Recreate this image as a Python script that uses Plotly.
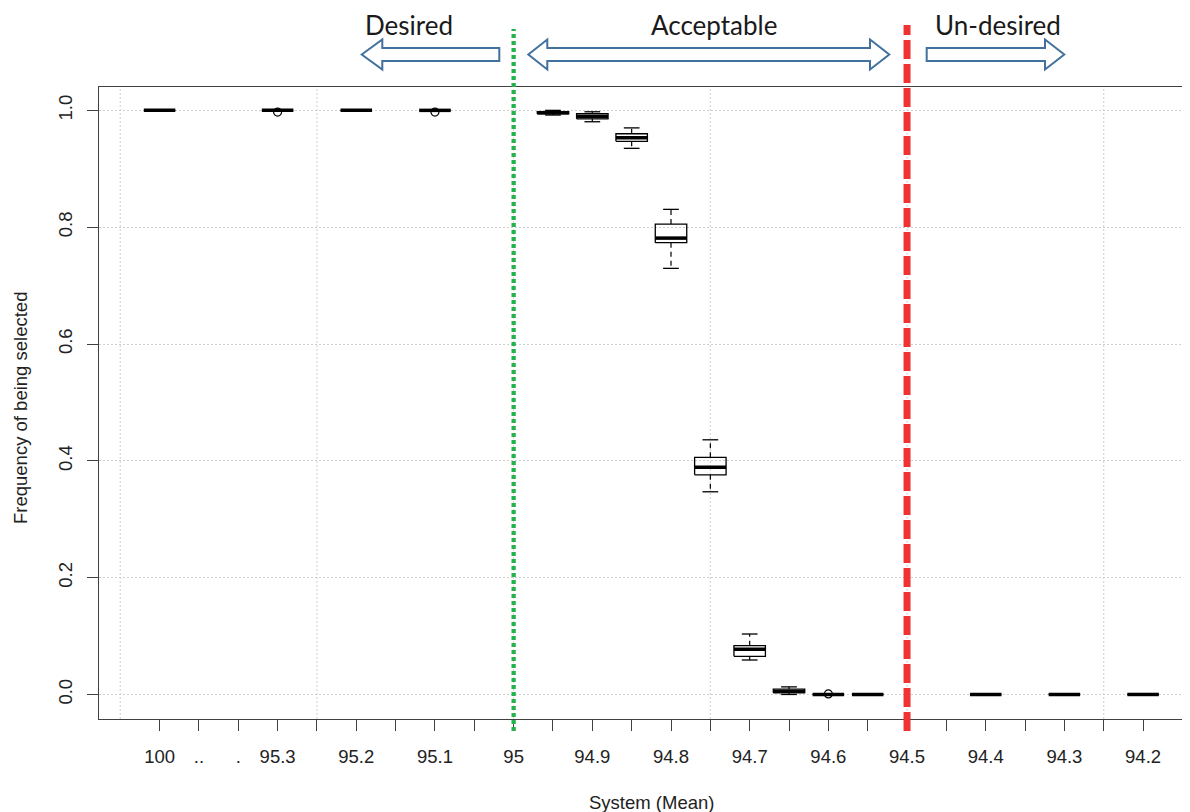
import plotly.graph_objects as go

# ---------------- data ----------------
tick_labels = ["100", "..", ".", "95.3", "", "95.2", "", "95.1", "", "95",
               "", "94.9", "", "94.8", "", "94.7", "", "94.6", "", "94.5",
               "", "94.4", "", "94.3", "", "94.2"]
positions = [1, 4, 6, 8, 11, 12, 13, 14, 15, 16, 17, 18, 19, 22, 24, 26]
whisker_low = [1.0, 1.0, 1.0, 1.0, 0.992, 0.9805, 0.935, 0.7295, 0.347, 0.059, 0.0, 0.0, 0.0, 0.0, 0.0, 0.0]
q1 = [1.0, 1.0, 1.0, 1.0, 0.994, 0.9856, 0.947, 0.7735, 0.376, 0.0653, 0.003, 0.0, 0.0, 0.0, 0.0, 0.0]
median = [1.0, 1.0, 1.0, 1.0, 0.996, 0.9897, 0.953, 0.7813, 0.389, 0.0773, 0.005, 0.0, 0.0, 0.0, 0.0, 0.0]
q3 = [1.0, 1.0, 1.0, 1.0, 0.998, 0.9942, 0.960, 0.8053, 0.406, 0.0835, 0.009, 0.0, 0.0, 0.0, 0.0, 0.0]
whisker_high = [1.0, 1.0, 1.0, 1.0, 1.0, 0.9976, 0.970, 0.8305, 0.436, 0.1035, 0.013, 0.0, 0.0, 0.0, 0.0, 0.0]
outlier_x = [4, 8, 18]
outlier_y = [0.997, 0.997, 0.001]
y_ticks = [0.0, 0.2, 0.4, 0.6, 0.8, 1.0]
y_ticktext = ["0.0", "0.2", "0.4", "0.6", "0.8", "1.0"]
x_grid = [0, 5, 10, 15, 20, 25]
desired_cut = 10      # position of "95"
undesired_cut = 20    # position of "94.5"

# ---------------- layout constants ----------------
OFF = 8                      # page body margin in the browser
W, H = 1190 - OFF, 812 - OFF
ML, MR, MT, MB = 99 - OFF, 0, 87 - OFF, 93
PW, PH = W - ML - MR, H - MT - MB
XR = [-0.54, -0.54 + PW / 39.34]
YR = [-0.042, 1.040]
BOXW = 0.4
STAPLE = 0.2
FONT = "Liberation Sans, Arial, sans-serif"
TXT = "#222222"
AX = "#404040"


def px_x(px):
    return (px - OFF - ML) / PW


def px_y(py):
    return (OFF + MT + PH - py) / PH


# ---------------- marks ----------------
bx, by, mx, my, wx, wy, sx, sy = [], [], [], [], [], [], [], []
for p, lo, a, m, b, hi in zip(positions, whisker_low, q1, median, q3, whisker_high):
    bx += [p - BOXW, p + BOXW, p + BOXW, p - BOXW, p - BOXW, None]
    by += [a, a, b, b, a, None]
    mx += [p - BOXW, p + BOXW, None]
    my += [m, m, None]
    wx += [p, p, None, p, p, None]
    wy += [b, hi, None, a, lo, None]
    sx += [p - STAPLE, p + STAPLE, None, p - STAPLE, p + STAPLE, None]
    sy += [hi, hi, None, lo, lo, None]

fig = go.Figure()
fig.add_trace(go.Scatter(x=wx, y=wy, mode="lines", line=dict(color="black", width=1.2, dash="5px,4px"),
                         hoverinfo="skip"))
fig.add_trace(go.Scatter(x=sx, y=sy, mode="lines", line=dict(color="black", width=1.3), hoverinfo="skip"))
fig.add_trace(go.Scatter(x=bx, y=by, mode="lines", line=dict(color="black", width=1.3), hoverinfo="skip"))
fig.add_trace(go.Scatter(x=mx, y=my, mode="lines", line=dict(color="black", width=3.5), hoverinfo="skip"))
fig.add_trace(go.Scatter(x=outlier_x, y=outlier_y, mode="markers",
                         marker=dict(symbol="circle-open", size=8, color="black", line=dict(width=1.2)),
                         hoverinfo="skip"))

# vertical grid (R grid(), dotted lightgray)
for g in x_grid:
    fig.add_shape(type="line", xref="x", yref="paper", x0=g, x1=g, y0=0, y1=1, layer="below",
                  line=dict(color="#cfcfcf", width=1, dash="2px,2px"))

# threshold lines
fig.add_shape(type="line", xref="x", yref="paper", x0=desired_cut, x1=desired_cut,
              y0=px_y(731), y1=px_y(29), line=dict(color="#24b14e", width=4.3, dash="4px,3px"))
fig.add_shape(type="line", xref="x", yref="paper", x0=undesired_cut, x1=undesired_cut,
              y0=px_y(731), y1=px_y(25), line=dict(color="#ee3333", width=7, dash="19px,5px"))


# block arrows (outlined)
def arrow_path(points):
    return "M " + " L ".join(f"{px_x(a):.5f},{px_y(b):.5f}" for a, b in points) + " Z"


HT, ST, YC, SB, HB = 39.5, 48, 54.5, 61, 69.5
left_arrow = [(361.7, YC), (382.3, HT), (382.3, ST), (499.3, ST), (499.3, SB), (382.3, SB), (382.3, HB)]
double_arrow = [(528.3, YC), (547.3, HT), (547.3, ST), (870, ST), (870, HT), (889.3, YC),
                (870, HB), (870, SB), (547.3, SB), (547.3, HB)]
right_arrow = [(926.7, ST), (1045, ST), (1045, HT), (1064.3, YC), (1045, HB), (1045, SB), (926.7, SB)]
for pts in (left_arrow, double_arrow, right_arrow):
    fig.add_shape(type="path", xref="paper", yref="paper", path=arrow_path(pts),
                  fillcolor="white", line=dict(color="#41719C", width=2))

# header texts
for txt, cx in (("Desired", 409), ("Acceptable", 714), ("Un-desired", 997.5)):
    fig.add_annotation(text=txt, xref="paper", yref="paper", x=px_x(cx), y=px_y(25),
                       xanchor="center", yanchor="middle", showarrow=False,
                       font=dict(family="Lato, Open Sans, sans-serif", size=26, color="#1a1a1a"))

# axis titles
fig.add_annotation(text="System (Mean)", xref="x", yref="paper", x=13.5, y=px_y(802),
                   xanchor="center", yanchor="middle", showarrow=False,
                   font=dict(family=FONT, size=18.5, color=TXT))
fig.add_annotation(text="Frequency of being selected", xref="paper", yref="paper", x=px_x(20),
                   y=px_y(408), textangle=-90, xanchor="center", yanchor="middle", showarrow=False,
                   font=dict(family=FONT, size=18.5, color=TXT))

fig.update_layout(
    width=W, height=H, autosize=False,
    margin=dict(l=ML, r=MR, t=MT, b=MB, pad=0),
    paper_bgcolor="white", plot_bgcolor="white",
    showlegend=False,
    xaxis=dict(range=XR, tickmode="array", tickvals=list(range(1, len(tick_labels) + 1)),
               ticktext=tick_labels, showgrid=False, zeroline=False,
               showline=True, linecolor=AX, linewidth=1.3, mirror=True,
               ticks="outside", ticklen=11, tickwidth=1.3, tickcolor=AX,
               ticklabelstandoff=10,
               tickfont=dict(family=FONT, size=18.5, color=TXT), tickangle=0),
    yaxis=dict(range=YR, tickmode="array", tickvals=y_ticks, ticktext=y_ticktext,
               showgrid=True, gridcolor="#cfcfcf", griddash="2px,2px", gridwidth=1, zeroline=False,
               showline=True, linecolor=AX, linewidth=1.3, mirror=False,
               ticks="outside", ticklen=11, tickwidth=1.3, tickcolor=AX, tickangle=-90,
               ticklabelstandoff=7,
               tickfont=dict(family=FONT, size=18.5, color=TXT)),
)

fig.write_html("out.html")
